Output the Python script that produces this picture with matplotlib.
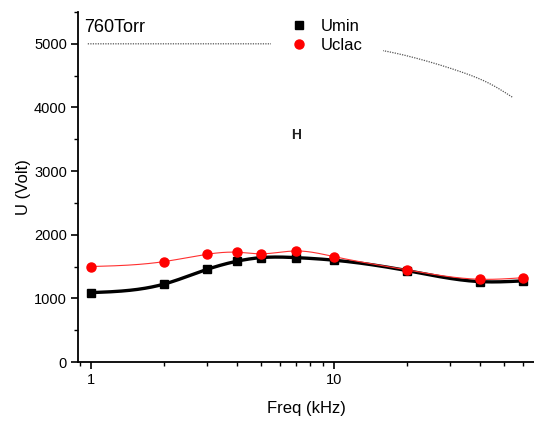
import numpy as np
import matplotlib
matplotlib.use("Agg")
from matplotlib import pyplot as plt
from matplotlib.ticker import LogLocator, MultipleLocator, FixedLocator, NullFormatter

plt.rcParams['font.family'] = ['Liberation Sans', 'DejaVu Sans']

# data
freq = [1, 2, 3, 4, 5, 7, 10, 20, 40, 60]
u_min = [1090, 1225, 1455, 1585, 1640, 1640, 1600, 1436, 1263, 1275]
u_clac = [1500, 1578, 1693, 1725, 1700, 1745, 1656, 1447, 1300, 1325]

# dotted limit curve (partly under the legend)
lim_freq = [0.97, 3, 6, 15.2, 24, 33, 45, 54.5]
lim_u = [5000, 5000, 5000, 4906, 4730, 4565, 4349, 4155]


def spline(x, y, n=400):
    # natural cubic spline through the points, in log-x space
    lx = np.log10(x)
    y = np.asarray(y, float)
    N = len(lx)
    h = np.diff(lx)
    A = np.zeros((N, N))
    b = np.zeros(N)
    A[0, 0] = A[-1, -1] = 1
    for i in range(1, N-1):
        A[i, i-1] = h[i-1]
        A[i, i] = 2*(h[i-1]+h[i])
        A[i, i+1] = h[i]
        b[i] = 3*((y[i+1]-y[i])/h[i] - (y[i]-y[i-1])/h[i-1])
    c = np.linalg.solve(A, b)
    bb = (y[1:]-y[:-1])/h - h*(2*c[:-1]+c[1:])/3
    d = (c[1:]-c[:-1])/(3*h)
    xs = np.linspace(lx[0], lx[-1], n)
    k = np.clip(np.searchsorted(lx, xs)-1, 0, N-2)
    t = xs - lx[k]
    ys = y[k] + bb[k]*t + c[k]*t**2 + d[k]*t**3
    return 10**xs, ys


fig = plt.figure(figsize=(5.34, 4.21), dpi=100)
ax = fig.add_axes([78/534, 59/421, 1-78/534, (362-12)/421])

lx, ly = spline(lim_freq, lim_u)
ax.plot(lx, ly, ls=(0, (1, 1)), color='#555555', lw=0.9)

sx, sy = spline(freq, u_min)
ax.plot(sx, sy, color='black', lw=2.4, zorder=3)
ax.plot(freq, u_min, 's', color='black', ms=5.5, zorder=4, label='Umin')

sx, sy = spline(freq, u_clac)
ax.plot(sx, sy, color='#ff3030', lw=0.8, zorder=5)
ax.plot(freq, u_clac, 'o', color='#ff0000', ms=6.5, zorder=6, label='Uclac')

ax.set_xscale('log')
ax.set_xlim(0.884, 66.5)
ax.set_ylim(0, 5500)
ax.xaxis.set_major_locator(FixedLocator([1, 10]))
ax.set_xticklabels(['1', '10'])
ax.xaxis.set_minor_locator(LogLocator(base=10, subs=np.arange(2, 10)))
ax.xaxis.set_minor_formatter(NullFormatter())
ax.yaxis.set_major_locator(MultipleLocator(1000))
ax.yaxis.set_minor_locator(MultipleLocator(500))

for s in ['top', 'right']:
    ax.spines[s].set_visible(False)
for s in ['left', 'bottom']:
    ax.spines[s].set_linewidth(1.3)
ax.tick_params(which='major', direction='out', length=5, width=1.2, labelsize=10.5, pad=3)
ax.tick_params(which='minor', direction='out', length=3, width=1.0)

ax.set_xlabel('Freq (kHz)', fontsize=12, labelpad=10)
ax.set_ylabel('U (Volt)', fontsize=12, labelpad=2)

fig.text(84/534, 1-28/421, '760Torr', fontsize=13, va='center')
fig.text(296/534, 1-135/421, 'H', fontsize=10, fontweight='bold', ha='center', va='center', color='#222222')

leg = ax.legend(loc='center', bbox_to_anchor=(327/534, 1-36/421), bbox_transform=fig.transFigure,
                fontsize=12, handlelength=1.0, handletextpad=0.8, labelspacing=0.25,
                borderpad=1.2, frameon=True, facecolor='white', edgecolor='none', framealpha=1)
leg.set_zorder(10)

fig.savefig('out.png', dpi=100)
